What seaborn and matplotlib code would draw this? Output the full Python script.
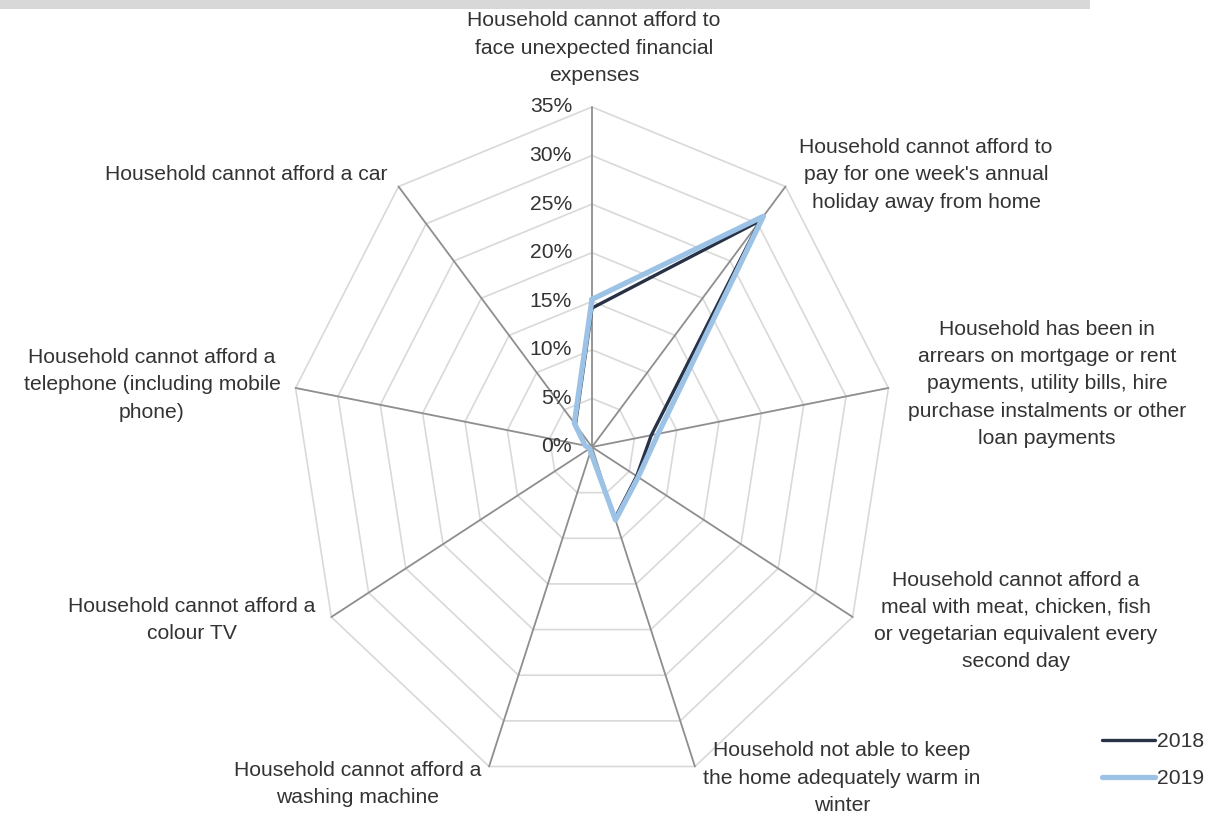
import numpy as np
import pandas as pd
import matplotlib
matplotlib.use("Agg")
import matplotlib.pyplot as plt
import seaborn as sns
from matplotlib.patches import Rectangle

# ---- data ----
categories = [
    "Household cannot afford to\nface unexpected financial\nexpenses",
    "Household cannot afford to\npay for one week's annual\nholiday away from home",
    "Household has been in\narrears on mortgage or rent\npayments, utility bills, hire\npurchase instalments or other\nloan payments",
    "Household cannot afford a\nmeal with meat, chicken, fish\nor vegetarian equivalent every\nsecond day",
    "Household not able to keep\nthe home adequately warm in\nwinter",
    "Household cannot afford a\nwashing machine",
    "Household cannot afford a\ncolour TV",
    "Household cannot afford a\ntelephone (including mobile\nphone)",
    "Household cannot afford a car",
]
values_2018 = [14.3, 30.4, 7.0, 6.0, 7.8, 0.5, 0.3, 0.8, 3.0]
values_2019 = [15.2, 31.0, 7.8, 6.2, 8.0, 0.5, 0.3, 0.8, 3.2]
years = ["2018", "2019"]
radial_ticks = [0, 5, 10, 15, 20, 25, 30, 35]
radial_tick_labels = ["0%", "5%", "10%", "15%", "20%", "25%", "30%", "35%"]

# ---- layout / style ----
W, H = 1216, 817
label_centers_px = [(594, 48), (926, 175), (1047, 384), (1016, 621), (842, 778),
                    (358, 784), (192, 620), (152, 385), (246, 174)]
color_2018 = "#283246"
color_2019 = "#9cc2e5"
text_color = "#333333"
fs = 15.2

sns.set_theme(style="white")
plt.rcParams["font.family"] = ["Liberation Sans", "DejaVu Sans"]

fig = plt.figure(figsize=(W / 100, H / 100), dpi=100)
fig.patch.set_facecolor("white")
fig.add_artist(Rectangle((0, 1 - 9 / H), 1090 / W, 9 / H, transform=fig.transFigure,
                         facecolor="#d8d8d8", edgecolor="none"))

cx, cy, rx, ry = 592, 447, 301, 340
ax = fig.add_axes([(cx - rx) / W, 1 - (cy + ry) / H, 2 * rx / W, 2 * ry / H], projection="polar")
ax.set_aspect("auto")
ax.set_theta_zero_location("N")
ax.set_theta_direction(-1)
ax.set_ylim(0, 35)
ax.grid(False)
ax.spines["polar"].set_visible(False)
ax.set_xticks([])
ax.set_yticks([])
ax.patch.set_alpha(0)

n = len(categories)
theta = np.linspace(0, 2 * np.pi, n, endpoint=False)
theta_closed = np.append(theta, 2 * np.pi)

# polygon rings
for r in radial_ticks[1:]:
    ax.plot(theta_closed, [r] * (n + 1), color="#d9d9d9", lw=1.2, clip_on=False, zorder=1)
# spokes
for t in theta:
    ax.plot([t, t], [0, 35], color="#8e8e8e", lw=1.3, clip_on=False, zorder=2)

# series
df = pd.DataFrame({
    "theta": np.concatenate([theta_closed, theta_closed]),
    "value": values_2018 + [values_2018[0]] + values_2019 + [values_2019[0]],
    "year": [years[0]] * (n + 1) + [years[1]] * (n + 1),
})
sns.lineplot(data=df[df["year"] == "2018"], x="theta", y="value", sort=False, estimator=None,
             color=color_2018, lw=2.4, ax=ax, label="2018", zorder=3)
sns.lineplot(data=df[df["year"] == "2019"], x="theta", y="value", sort=False, estimator=None,
             color=color_2019, lw=3.8, ax=ax, label="2019", zorder=4)
handles, labels = ax.get_legend_handles_labels()
if ax.get_legend() is not None:
    ax.get_legend().remove()
ax.set_xlabel("")
ax.set_ylabel("")

# radial tick labels
for r, lab in zip(radial_ticks, radial_tick_labels):
    ax.annotate(lab, xy=(0, r), xytext=(-20, 0), textcoords="offset pixels",
                ha="right", va="center", fontsize=fs, color=text_color, annotation_clip=False)

# category labels
for text, (px, py) in zip(categories, label_centers_px):
    fig.text(px / W, 1 - py / H, text, ha="center", va="center", multialignment="center",
             fontsize=fs, color=text_color, linespacing=1.55)

leg = fig.legend(handles, labels, loc="center left", bbox_to_anchor=(1102 / W, 1 - 760 / H),
                 frameon=False, fontsize=fs, handlelength=2.5, handletextpad=0.1,
                 labelspacing=0.85, borderpad=0, borderaxespad=0)
for t in leg.get_texts():
    t.set_color(text_color)

fig.savefig("out.png", dpi=100)
